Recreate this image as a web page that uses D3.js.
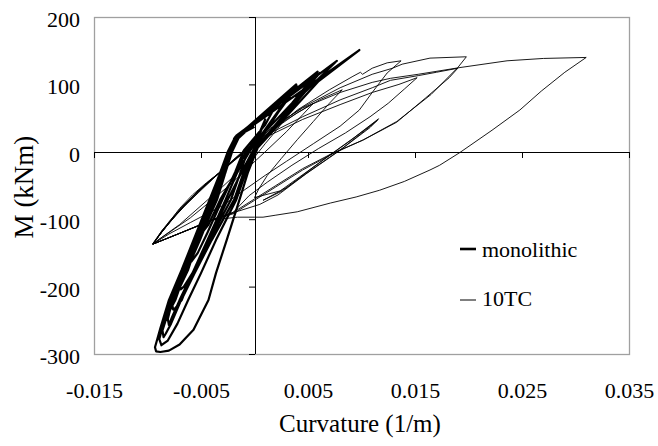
<!DOCTYPE html>
<html lang="en">
<head>
<meta charset="UTF-8" />
<title>Moment - curvature</title>
<script src="https://cdn.jsdelivr.net/npm/d3@7/dist/d3.min.js"></script>
<style>
  body { margin: 0; background: #fff; }
  svg, svg text { font-family: "Liberation Serif", "DejaVu Serif", serif; fill: #000; }
</style>
</head>
<body>
<div id="chart"></div>
<script>
// curvature (1/m), moment (kNm) pairs
var monolithic = [
  [0, 0], [0.0004, 22], [0.0010, 48], [0.0003, 22],
  [-0.0008, 0], [-0.0017, -30], [-0.0032, -71], [-0.0043, -108], [-0.0048, -118], [-0.0050, -120],
  [-0.0051, -112], [-0.0046, -95], [-0.0034, -60], [-0.0027, -30], [-0.0021, 0], [-0.0015, 20],
  [0.0022, 75], [0.0010, 40],
  [-0.0010, 2], [-0.0018, -30], [-0.0030, -71], [-0.0044, -120], [-0.0053, -150], [-0.0059, -163], [-0.0061, -164],
  [-0.0062, -155], [-0.0057, -137], [-0.0050, -125], [-0.0035, -71], [-0.0028, -35], [-0.0022, 0], [-0.0017, 22],
  [0.0039, 100], [0.0022, 60],
  [-0.0004, 2], [-0.0016, -30], [-0.0027, -71], [-0.0044, -131], [-0.0058, -180], [-0.0066, -200], [-0.0069, -204],
  [-0.0070, -195], [-0.0066, -178], [-0.0059, -160], [-0.0051, -131], [-0.0036, -71], [-0.0028, -35], [-0.0022, 0], [-0.0019, 20],
  [0.0040, 97], [0.0022, 58],
  [-0.0001, 3], [-0.0012, -30], [-0.0025, -71], [-0.0043, -131], [-0.0058, -180], [-0.0068, -220], [-0.0074, -232], [-0.0076, -234],
  [-0.0077, -226], [-0.0071, -205], [-0.0062, -175], [-0.0053, -131], [-0.0038, -71], [-0.0029, -35], [-0.0023, 0], [-0.0018, 22],
  [0.0059, 119], [0.0035, 72],
  [-0.0006, 3], [-0.0013, -30], [-0.0022, -71], [-0.0042, -131], [-0.0058, -180], [-0.0070, -220], [-0.0077, -245], [-0.0080, -257],
  [-0.0081, -248], [-0.0079, -235], [-0.0074, -220], [-0.0064, -175], [-0.0054, -131], [-0.0039, -71], [-0.0030, -35], [-0.0023, 0], [-0.0017, 24],
  [0.0061, 117], [0.0038, 75],
  [0.0001, 5], [-0.0010, -30], [-0.0019, -71], [-0.0040, -131], [-0.0056, -180], [-0.0070, -225], [-0.0078, -255], [-0.0083, -270], [-0.0085, -275],
  [-0.0086, -265], [-0.0082, -245], [-0.0076, -220], [-0.0065, -175], [-0.0055, -131], [-0.0040, -71], [-0.0031, -35], [-0.0024, 0], [-0.0018, 22],
  [0.0077, 135], [0.0048, 90],
  [0.0002, 4], [-0.0008, -30], [-0.0017, -71], [-0.0036, -131], [-0.0050, -180], [-0.0062, -220], [-0.0072, -255], [-0.0081, -280], [-0.0087, -287],
  [-0.0089, -278], [-0.0085, -255], [-0.0078, -220], [-0.0066, -175], [-0.0056, -131], [-0.0041, -71], [-0.0032, -35], [-0.0024, 0], [-0.0016, 23],
  [0.0098, 151], [0.0060, 105],
  [0.0003, 6], [-0.0006, -30], [-0.0014, -71], [-0.0026, -131], [-0.0036, -180], [-0.0043, -220], [-0.0057, -264], [-0.0070, -286],
  [-0.0080, -295], [-0.0088, -297], [-0.0092, -296],
  [-0.0093, -290], [-0.0088, -262], [-0.0080, -220], [-0.0068, -175], [-0.0057, -131], [-0.0042, -71], [-0.0033, -35], [-0.0025, 0], [-0.0018, 22],
  [0.0000, 37]
];

var tenTC = [
  [0, 0], [0.0010, 22], [0.0020, 40], [0.0030, 52],
  [0.0022, 35], [0.0010, 12], [0.0000, -8], [-0.0015, -30], [-0.0030, -52], [-0.0050, -80], [-0.0070, -108], [-0.0085, -125], [-0.0095, -137],
  [-0.0088, -122], [-0.0080, -105], [-0.0070, -84], [-0.0058, -64], [-0.0045, -46], [-0.0032, -30], [-0.0020, -12], [-0.0010, 2],
  [0.0010, 25], [0.0030, 48], [0.0055, 72],
  [0.0045, 55], [0.0030, 30], [0.0010, 0], [-0.0005, -22], [-0.0020, -45], [-0.0040, -72], [-0.0060, -98], [-0.0080, -120], [-0.0095, -136],
  [-0.0087, -118], [-0.0078, -100], [-0.0068, -82], [-0.0055, -62], [-0.0042, -44], [-0.0030, -28], [-0.0018, -10], [-0.0008, 4],
  [0.0015, 30], [0.0040, 58], [0.0062, 78], [0.0082, 92],
  [0.0070, 72], [0.0055, 45], [0.0040, 18], [0.0025, -10], [0.0012, -35], [0.0004, -55], [0.0000, -68],
  [0.0024, -58], [0.0060, -17], [0.0090, 17], [0.0115, 47],
  [0.0110, 40], [0.0082, 5], [0.0052, -28], [0.0026, -58], [0.0008, -72],
  [0.0030, -53], [0.0064, -12], [0.0093, 21], [0.0116, 49],
  [0.0108, 36], [0.0078, 0], [0.0048, -33], [0.0022, -64], [0.0005, -78],
  [-0.0015, -88], [-0.0040, -102], [-0.0070, -121], [-0.0095, -137],
  [-0.0086, -116], [-0.0076, -98], [-0.0064, -78], [-0.0050, -56], [-0.0036, -36], [-0.0024, -20], [-0.0012, -4], [0.0000, 10],
  [0.0040, 62], [0.0070, 92], [0.0092, 112], [0.0099, 118], [0.0101, 115], [0.0110, 124], [0.0124, 132], [0.0137, 135],
  [0.0124, 117], [0.0110, 88], [0.0098, 62], [0.0080, 38], [0.0055, 12], [0.0030, -14], [0.0010, -35], [-0.0008, -55],
  [-0.0030, -80], [-0.0060, -105], [-0.0080, -122], [-0.0095, -137],
  [-0.0087, -120], [-0.0078, -102], [-0.0068, -84], [-0.0056, -64], [-0.0044, -46], [-0.0032, -30], [-0.0020, -14], [-0.0008, 2],
  [0.0015, 25], [0.0045, 48], [0.0080, 70], [0.0110, 88], [0.0135, 100], [0.0152, 110],
  [0.0140, 93], [0.0125, 72], [0.0108, 52], [0.0085, 28], [0.0060, 5], [0.0035, -20], [0.0012, -45], [-0.0005, -65],
  [-0.0020, -90], [-0.0040, -101], [-0.0070, -121], [-0.0095, -137],
  [-0.0088, -122], [-0.0079, -104], [-0.0069, -85], [-0.0057, -65], [-0.0045, -47], [-0.0033, -31], [-0.0021, -14], [-0.0009, 1],
  [0.0015, 28], [0.0045, 52], [0.0080, 77], [0.0110, 95], [0.0127, 106], [0.0153, 113], [0.0170, 118], [0.0190, 124],
  [0.0182, 110], [0.0160, 80], [0.0133, 44], [0.0101, 17], [0.0073, -2], [0.0045, -25], [0.0020, -50], [0.0000, -70],
  [-0.0020, -90], [-0.0040, -101], [-0.0070, -121], [-0.0095, -137],
  [-0.0087, -119], [-0.0077, -100], [-0.0067, -82], [-0.0055, -62], [-0.0043, -45], [-0.0031, -29], [-0.0019, -12], [-0.0007, 3],
  [0.0015, 34], [0.0045, 66], [0.0080, 95], [0.0110, 115], [0.0129, 124], [0.0138, 130], [0.0164, 139], [0.0198, 141],
  [0.0190, 125], [0.0165, 85], [0.0133, 45], [0.0102, 18], [0.0073, -3], [0.0045, -27], [0.0020, -52], [0.0000, -72],
  [-0.0020, -92], [-0.0040, -102], [-0.0070, -121], [-0.0095, -137],
  [-0.0086, -118], [-0.0076, -99], [-0.0066, -80], [-0.0054, -60], [-0.0042, -43], [-0.0030, -27], [-0.0018, -11], [-0.0006, 4],
  [0.0015, 35], [0.0045, 65], [0.0080, 88], [0.0110, 103], [0.0127, 109], [0.0153, 115], [0.0192, 125], [0.0236, 135], [0.0270, 138.5], [0.0310, 140],
  [0.0290, 118], [0.0268, 90], [0.0248, 62], [0.0222, 32], [0.0192, -1], [0.0173, -20], [0.0164, -27], [0.0140, -44], [0.0117, -57],
  [0.0095, -67], [0.0071, -76], [0.0040, -89], [0.0020, -94], [0.0008, -97], [0.0000, -97], [-0.0016, -97], [-0.0039, -101],
  [-0.0070, -121], [-0.0095, -137],
  [-0.0086, -117], [-0.0075, -97], [-0.0065, -80], [-0.0052, -60], [-0.0040, -42]
];

var xTicks = [-0.015, -0.005, 0.005, 0.015, 0.025, 0.035];
var xTickLabels = ["-0.015", "-0.005", "0.005", "0.015", "0.025", "0.035"];
var yTicks = [-300, -200, -100, 0, 100, 200];
var yTickLabels = ["-300", "-200", "-100", "0", "100", "200"];
var seriesNames = ["monolithic", "10TC"];

var w = 658, h = 446;
var plotL = 94, plotR = 629, plotT = 17, plotB = 354;
var serif = "'Liberation Serif', 'DejaVu Serif', serif";

var svg = d3.select("#chart").append("svg")
  .attr("width", w)
  .attr("height", h)
  .style("font-family", serif);

svg.append("rect").attr("width", w).attr("height", h).attr("fill", "#fff");

var x = d3.scaleLinear().domain([-0.015, 0.035]).range([plotL, plotR]);
var y = d3.scaleLinear().domain([-300, 200]).range([plotB, plotT]);

// plot frame
svg.append("rect")
  .attr("x", plotL + 0.5)
  .attr("y", plotT + 0.5)
  .attr("width", plotR - plotL)
  .attr("height", plotB - plotT)
  .attr("fill", "none")
  .attr("stroke", "#a0a0a0")
  .attr("stroke-width", 1.3);

var line = d3.line()
  .x(function(d) { return x(d[0]); })
  .y(function(d) { return y(d[1]); });

svg.append("path")
  .datum(tenTC)
  .attr("d", line)
  .attr("fill", "none")
  .attr("stroke", "#000")
  .attr("stroke-width", 0.9);

svg.append("path")
  .datum(monolithic)
  .attr("d", line)
  .attr("fill", "none")
  .attr("stroke", "#000")
  .attr("stroke-width", 2.2)
  .attr("stroke-linejoin", "round");

// axes through zero, ticks only
var xAxis = svg.append("g")
  .attr("transform", "translate(0," + Math.round(y(0)) + ")")
  .call(d3.axisBottom(x).tickValues(xTicks).tickSize(6).tickSizeOuter(0).tickFormat(""));
xAxis.select(".domain").attr("d", "M" + plotL + ",0.5H" + plotR);

var yAxis = svg.append("g")
  .attr("transform", "translate(" + Math.round(x(0)) + ",0)")
  .call(d3.axisLeft(y).tickValues(yTicks).tickSize(6).tickSizeOuter(0).tickFormat(""));
yAxis.select(".domain").attr("d", "M0.5," + plotT + "V" + plotB);
svg.selectAll(".domain").attr("stroke", "#000");
svg.selectAll(".tick line").attr("stroke", "#000");

// tick labels outside the frame
var xLab = svg.append("g")
  .attr("transform", "translate(0," + plotB + ")")
  .call(d3.axisBottom(x).tickValues(xTicks).tickSize(0)
    .tickFormat(function(d, i) { return xTickLabels[i]; }));
xLab.select(".domain").remove();
xLab.selectAll("text").attr("dy", 0).attr("y", 44);

var yLab = svg.append("g")
  .attr("transform", "translate(" + plotL + ",0)")
  .call(d3.axisLeft(y).tickValues(yTicks).tickSize(0).tickPadding(14)
    .tickFormat(function(d, i) { return yTickLabels[i]; }));
yLab.select(".domain").remove();
yLab.selectAll("text").attr("dy", "0.43em");

svg.selectAll("g").attr("font-family", null).attr("font-size", null);
svg.selectAll(".tick text")
  .style("font-family", serif)
  .style("font-size", "22px")
  .attr("fill", "#000");

// axis titles
svg.append("text")
  .attr("x", 360)
  .attr("y", 432)
  .attr("text-anchor", "middle")
  .style("font-family", serif)
  .style("font-size", "25px")
  .text("Curvature (1/m)");

svg.append("text")
  .attr("transform", "translate(33,187) rotate(-90)")
  .attr("text-anchor", "middle")
  .style("font-family", serif)
  .style("font-size", "27px")
  .text("M (kNm)");

// legend
var legend = svg.append("g");
legend.selectAll("line")
  .data(seriesNames)
  .enter()
  .append("line")
  .attr("x1", 460)
  .attr("x2", 476)
  .attr("y1", function(d, i) { return 249 + i * 51; })
  .attr("y2", function(d, i) { return 249 + i * 51; })
  .attr("stroke", "#000")
  .attr("stroke-width", function(d, i) { return i == 0 ? 2.6 : 1; });
legend.selectAll("text")
  .data(seriesNames)
  .enter()
  .append("text")
  .attr("x", 482)
  .attr("y", function(d, i) { return 257 + i * 49; })
  .style("font-family", serif)
  .style("font-size", "22px")
  .text(function(d) { return d; });
</script>
</body>
</html>
